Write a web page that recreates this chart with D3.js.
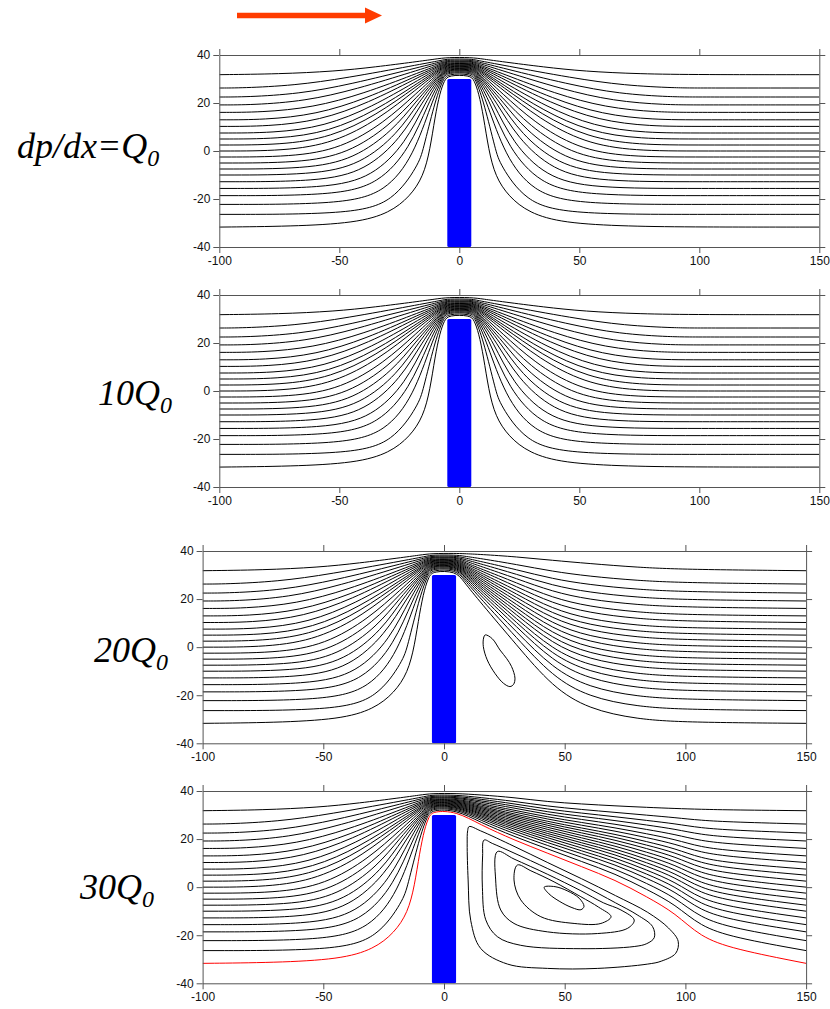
<!DOCTYPE html>
<html>
<head>
<meta charset="utf-8">
<script src="https://cdn.jsdelivr.net/npm/d3@7"></script>
<style>
body { margin: 0; background: #fff; }
.axis path, .axis line { stroke: #555; }
.axis text { font-family: "Liberation Sans", Arial, sans-serif; font-size: 12px; fill: #111; }
.label { font-family: "Liberation Serif", "Times New Roman", serif; font-style: italic; font-size: 36px; fill: #000; }
</style>
</head>
<body>
<div id="chart"></div>
<script>
var xTicks = [-100, -50, 0, 50, 100, 150],
    yTicks = [-40, -20, 0, 20, 40];

// upstream halves of the 21 streamlines (same in every panel), bottom line first
var upLeft = [
  [[-100,-31.7],[-70,-31.4],[-43,-30],[-29,-25.8],[-20.5,-18.9],[-15,-10.6],[-12.2,0.5],[-10.1,14.4],[-8.1,24.2],[-6.2,29.5],[-4.5,31.6]],
  [[-100,-26.4],[-45.5,-26.4],[-27.4,-21.2],[-16.9,-5.4],[-15.2,0],[-10.3,20],[-7,29.5],[-5,32.2]],
  [[-100,-22.25],[-49.2,-22.25],[-30.6,-17.15],[-18.95,-1.85],[-11.6,20],[-7,30.5],[-5,32.7]],
  [[-100,-18.6],[-52.3,-18.6],[-33.4,-13.7],[-20.6,1.2],[-12.9,20],[-7,31.2],[-5,33.1]],
  [[-100,-15.6],[-55.2,-15.6],[-36,-10.8],[-22.2,3.5],[-14.3,20],[-7,31.8],[-5,33.5]],
  [[-100,-12.8],[-58.5,-12.8],[-38.9,-8.2],[-24.2,5.5],[-15.7,20],[-7,32.3],[-5,33.8]],
  [[-100,-10],[-60.9,-10],[-41,-5.65],[-25.5,7.4],[-17.2,20],[-7,32.8],[-5,34.1]],
  [[-100,-7.5],[-63.8,-7.5],[-43.7,-3.4],[-27.3,9],[-18.6,20],[-7,33.2],[-5,34.4]],
  [[-100,-5],[-66.7,-5],[-46.3,-1.1],[-29.1,10.6],[-18,22.2],[-7,33.6],[-5,34.7]],
  [[-100,-2.5],[-69.6,-2.5],[-49,1.1],[-31.1,12],[-18,23.9],[-7,34],[-5,35]],
  [[-100,0],[-72.8,0],[-52,3.4],[-33.4,13.4],[-18,25.6],[-7,34.35],[-5,35.3]],
  [[-100,2.5],[-74.3,2.5],[-53.3,5.7],[-34.3,15.1],[-18,26.8],[-7,34.7],[-5,35.6]],
  [[-100,5],[-75.3,5],[-54.2,8],[-34.8,16.9],[-18,27.8],[-7,35.05],[-5,35.9]],
  [[-100,7.5],[-77.4,7.5],[-56.1,10.2],[-36.3,18.4],[-18,29],[-7,35.4],[-5,36.2]],
  [[-100,10.25],[-79.5,10.25],[-58.1,12.7],[-37.8,20.1],[-18,30.2],[-7,35.75],[-5,36.5]],
  [[-100,13],[-81.1,13],[-59.6,15.2],[-38.9,21.8],[-18,31.2],[-7,36.1],[-5,36.8]],
  [[-100,16.1],[-82.5,16.1],[-60.9,18.1],[-39.9,23.9],[-18,32.2],[-7,36.5],[-5,37.2]],
  [[-100,19.2],[-86,19.2],[-64.2,20.8],[-43,25.7],[-18,33.45],[-7,36.9],[-5,37.5]],
  [[-100,22.5],[-88.6,22.5],[-66.8,23.8],[-45.3,27.8],[-18,34.6],[-7,37.35],[-5,37.9]],
  [[-100,26.25],[-90.7,26.25],[-68.8,27.3],[-47.1,30.4],[-18,35.8],[-7,37.85],[-5,38.35]],
  [[-100,31.8],[-75,32.1],[-52,33.2],[-35,35],[-18,37.2],[-10,38.3],[-5,39]]
];

// downstream halves for dp/dx=Q0 and 10Q0 (symmetric flow)
var stokesRight = [
  [[4.5,31.6],[6.2,29.5],[8.1,24.2],[10.1,14.4],[12.2,0.5],[15,-10.6],[20.5,-18.9],[29,-25.8],[43,-30],[70,-31.4],[100,-31.7],[150,-31.7]],
  [[5,32.2],[7,29.5],[10.3,20],[15.2,0],[16.9,-5.4],[27.4,-21.2],[45.5,-26.4],[100,-26.4],[150,-26.4]],
  [[5,32.7],[7,30.5],[11.6,20],[18.95,-1.85],[30.6,-17.15],[49.2,-22.25],[100,-22.25],[150,-22.25]],
  [[5,33.1],[7,31.2],[12.9,20],[20.6,1.2],[33.4,-13.7],[52.3,-18.6],[100,-18.6],[150,-18.6]],
  [[5,33.5],[7,31.8],[14.3,20],[22.2,3.5],[36,-10.8],[55.2,-15.6],[100,-15.6],[150,-15.6]],
  [[5,33.8],[7,32.3],[15.7,20],[24.2,5.5],[38.9,-8.2],[58.5,-12.8],[100,-12.8],[150,-12.8]],
  [[5,34.1],[7,32.8],[17.2,20],[25.5,7.4],[41,-5.65],[60.9,-10],[100,-10],[150,-10]],
  [[5,34.4],[7,33.2],[18.6,20],[27.3,9],[43.7,-3.4],[63.8,-7.5],[100,-7.5],[150,-7.5]],
  [[5,34.7],[7,33.6],[18,22.2],[29.1,10.6],[46.3,-1.1],[66.7,-5],[100,-5],[150,-5]],
  [[5,35],[7,34],[18,23.9],[31.1,12],[49,1.1],[69.6,-2.5],[100,-2.5],[150,-2.5]],
  [[5,35.3],[7,34.35],[18,25.6],[33.4,13.4],[52,3.4],[72.8,0],[100,0],[150,0]],
  [[5,35.6],[7,34.7],[18,26.8],[34.3,15.1],[53.3,5.7],[74.3,2.5],[100,2.5],[150,2.5]],
  [[5,35.9],[7,35.05],[18,27.8],[34.8,16.9],[54.2,8],[75.3,5],[100,5],[150,5]],
  [[5,36.2],[7,35.4],[18,29],[36.3,18.4],[56.1,10.2],[77.4,7.5],[100,7.5],[150,7.5]],
  [[5,36.5],[7,35.75],[18,30.2],[37.8,20.1],[58.1,12.7],[79.5,10.25],[100,10.25],[150,10.25]],
  [[5,36.8],[7,36.1],[18,31.2],[38.9,21.8],[59.6,15.2],[81.1,13],[100,13],[150,13]],
  [[5,37.2],[7,36.5],[18,32.2],[39.9,23.9],[60.9,18.1],[82.5,16.1],[100,16.1],[150,16.1]],
  [[5,37.5],[7,36.9],[18,33.45],[43,25.7],[64.2,20.8],[86,19.2],[100,19.2],[150,19.2]],
  [[5,37.9],[7,37.35],[18,34.6],[45.3,27.8],[66.8,23.8],[88.6,22.5],[100,22.5],[150,22.5]],
  [[5,38.35],[7,37.85],[18,35.8],[47.1,30.4],[68.8,27.3],[90.7,26.25],[100,26.25],[150,26.25]],
  [[5,39],[10,38.3],[18,37.2],[35,35],[52,33.2],[75,32.1],[100,31.8],[150,31.8]]
];

// downstream halves for 20Q0, read at these x stations
var p3x = [5, 8, 15, 30, 45, 60, 80, 100, 150];
var p3y = [
  [31.6,27.5,18.75,1.0,-16.7,-25.8,-30.0,-31.3,-31.7],
  [32.2,28.45,20.4,4.0,-12.3,-20.8,-24.75,-26.0,-26.4],
  [32.7,29.2,21.7,6.45,-8.8,-16.8,-20.6,-21.8,-22.25],
  [33.1,29.85,22.8,8.55,-5.8,-13.3,-17.0,-18.2,-18.6],
  [33.5,30.4,23.8,10.3,-3.3,-10.4,-13.95,-15.15,-15.6],
  [33.8,30.9,24.7,11.9,-1.0,-7.75,-11.2,-12.35,-12.8],
  [34.1,31.4,25.5,13.5,1.35,-5.1,-8.4,-9.55,-10],
  [34.4,31.85,26.3,14.95,3.4,-2.7,-5.9,-7.05,-7.5],
  [34.7,32.3,27.1,16.4,5.5,-0.35,-3.45,-4.6,-5],
  [35.0,32.75,27.9,17.8,7.6,2.1,-0.9,-2.05,-2.5],
  [35.3,33.2,28.65,19.3,9.65,4.4,1.55,0.45,0],
  [35.6,33.65,29.45,20.7,11.75,6.9,4.05,3.0,2.5],
  [35.9,34.1,30.2,22.15,13.8,9.2,6.55,5.5,5],
  [36.2,34.55,31.0,23.6,15.9,11.6,9.0,7.95,7.5],
  [36.5,35.05,31.9,25.2,18.2,14.3,11.8,10.75,10.25],
  [36.8,35.55,32.7,26.8,20.5,16.9,14.5,13.45,13],
  [37.2,36.1,33.7,28.55,23.05,19.8,17.6,16.6,16.1],
  [37.5,36.65,34.7,30.35,25.65,22.8,20.7,19.7,19.2],
  [37.9,37.25,35.7,32.25,28.4,26.0,24.0,23.0,22.5],
  [38.35,37.9,36.9,34.4,31.5,29.5,27.7,26.75,26.25],
  [39.0,38.9,38.6,37.6,36.1,34.8,33.2,32.3,31.8]
];
var eddy3 = [[17.1,5.1],[20,3.5],[23.2,-1.2],[26,-4.8],[28,-8.1],[29.4,-12.9],[28.8,-15.5],[27.3,-16.4],[24.6,-15],[21.1,-10.9],[17.9,-5.3],[16.3,0.2],[16.4,3.8]];

// downstream halves for 30Q0 (first line is the red dividing streamline)
var p4x = [5, 15, 29, 43, 57, 71, 84, 96, 106, 120, 150];
var p4y = [
  [31.6,26.0,19.6,14.1,8.5,3.0,-4.0,-10.9,-20.6,-25.8,-31.7],
  [32.2,27.0,21.05,15.9,10.65,5.55,-0.9,-7.3,-16.2,-21.0,-26.4],
  [32.7,27.85,22.25,17.3,12.4,7.6,1.55,-4.4,-12.7,-17.2,-22.25],
  [33.1,28.55,23.25,18.5,13.9,9.35,3.65,-1.9,-9.7,-13.9,-18.6],
  [33.5,29.15,24.1,19.55,15.1,10.8,5.45,0.2,-7.15,-11.1,-15.6],
  [33.8,29.7,24.9,20.5,16.3,12.2,7.1,2.1,-4.8,-8.55,-12.8],
  [34.1,30.25,25.65,21.4,17.45,13.55,8.7,4.0,-2.5,-6.0,-10],
  [34.4,30.7,26.35,22.25,18.45,14.75,10.15,5.7,-0.4,-3.75,-7.5],
  [34.7,31.2,27.05,23.1,19.45,15.95,11.6,7.4,1.65,-1.5,-5],
  [35.0,31.7,27.75,23.95,20.5,17.15,13.1,9.15,3.8,0.85,-2.5],
  [35.3,32.2,28.45,24.8,21.5,18.35,14.55,10.85,5.85,3.1,0],
  [35.6,32.7,29.15,25.65,22.55,19.6,16.05,12.6,7.95,5.4,2.5],
  [35.9,33.15,29.85,26.45,23.6,20.8,17.5,14.3,10.05,7.65,5],
  [36.2,33.65,30.5,27.3,24.6,22.0,18.95,16.0,12.1,9.9,7.5],
  [36.5,34.2,31.3,28.25,25.75,23.35,20.6,17.9,14.45,12.5,10.25],
  [36.8,34.75,32.05,29.15,26.9,24.7,22.2,19.8,16.7,15.0,13],
  [37.2,35.35,32.95,30.2,28.15,26.2,24.0,21.9,19.3,17.8,16.1],
  [37.5,35.95,33.8,31.25,29.45,27.7,25.85,24.1,21.9,20.6,19.2],
  [37.9,36.6,34.7,32.4,30.8,29.3,27.75,26.35,24.65,23.65,22.5],
  [38.35,37.3,35.75,33.65,32.3,31.1,29.95,28.9,27.8,27.05,26.25],
  [39.0,38.4,37.3,35.5,34.6,33.8,33.2,32.7,32.4,32.1,31.8]
];
var eddies4 = [
  [[10.4,25.2],[15.2,23.4],[29,17.0],[43,10.2],[57,3.5],[71,-3.5],[84.4,-10.5],[93,-17],[97,-22.5],[96,-27.5],[90,-30.8],[84.4,-32],[63.7,-33.8],[42.9,-33.8],[26.3,-32],[15.2,-25.5],[11.1,-14],[10,3],[9.6,18],[9.8,23.5]],
  [[16.6,19.6],[20,18.2],[29,14.2],[43,7.7],[57,1.0],[71,-6.5],[80,-11.5],[86.4,-16.4],[87.1,-21],[84,-23.5],[78.8,-24.7],[56.7,-25.6],[31.8,-24.2],[22.1,-20.6],[17.3,-13.6],[15.9,0],[16,13]],
  [[22.1,14.8],[29,11.7],[43,5.3],[56.7,-1.5],[66,-6.5],[73.3,-9.5],[78.8,-13.7],[76.1,-17.1],[63.6,-19.3],[42.9,-18.6],[29,-15.1],[23.5,-9.5],[21.4,3]],
  [[30.4,9.2],[36,6.8],[45.6,2.2],[56.7,-4.0],[64,-8.3],[69.2,-12.3],[65,-15.1],[53.9,-15.1],[40.1,-12.3],[31.8,-5.3],[29,3]],
  [[41.5,0],[43.5,-2.8],[48,-6],[53,-8.5],[56.7,-9.4],[58,-8],[56,-4.6],[51,-1.5],[46,0.2]]
];

var plate = {x0: -5, x1: 5, top: 30, bottom: -40};

var panels = [
  {left: 219.3, top: 55,  width: 600,   height: 192,   name: "dp/dx=Q", lx: 17, ly: 158, kind: "stokes"},
  {left: 219.3, top: 295, width: 600,   height: 192,   name: "10Q",     lx: 98, ly: 405, kind: "stokes"},
  {left: 202.6, top: 551, width: 603.5, height: 192.3, name: "20Q",     lx: 94, ly: 662, kind: "p3"},
  {left: 202.6, top: 791, width: 603.5, height: 192.3, name: "30Q",     lx: 80, ly: 899, kind: "p4"}
];

var svg = d3.select("#chart")
    .append("svg")
    .attr("width", 830)
    .attr("height", 1009);

// flow direction arrow
svg.append("line")
    .attr("x1", 237).attr("y1", 15.5)
    .attr("x2", 367).attr("y2", 15.5)
    .attr("stroke", "#ff3c00")
    .attr("stroke-width", 5.5);
svg.append("path")
    .attr("d", "M365,7.5L382,15.5L365,23.5Z")
    .attr("fill", "#ff3c00");

panels.forEach(function (p, pi) {
    var x = d3.scaleLinear().domain([-100, 150]).range([0, p.width]),
        y = d3.scaleLinear().domain([-40, 40]).range([p.height, 0]);

    var line = d3.line()
        .x(function (d) { return x(d[0]); })
        .y(function (d) { return y(d[1]); })
        .curve(d3.curveBasis);

    var loop = d3.line()
        .x(function (d) { return x(d[0]); })
        .y(function (d) { return y(d[1]); })
        .curve(d3.curveCatmullRomClosed.alpha(0.5));

    var g = svg.append("g")
        .attr("transform", "translate(" + p.left + "," + p.top + ")");

    g.append("clipPath").attr("id", "clip" + pi)
        .append("rect").attr("width", p.width).attr("height", p.height);

    var plot = g.append("g").attr("clip-path", "url(#clip" + pi + ")");

    var streams = upLeft.map(function (left, i) {
        var right;
        if (p.kind === "stokes") right = stokesRight[i];
        else if (p.kind === "p3") right = p3y[i].map(function (v, k) { return [p3x[k], v]; });
        else right = p4y[i].map(function (v, k) { return [p4x[k], v]; });
        return left.concat(right);
    });

    plot.selectAll(".stream")
        .data(streams)
        .enter().append("path")
        .attr("class", "stream")
        .attr("d", line)
        .attr("fill", "none")
        .attr("stroke", function (d, i) { return (p.kind === "p4" && i === 0) ? "#ff0000" : "#000"; })
        .attr("stroke-width", 1);

    var loops = p.kind === "p3" ? [eddy3] : (p.kind === "p4" ? eddies4 : []);
    plot.selectAll(".eddy")
        .data(loops)
        .enter().append("path")
        .attr("class", "eddy")
        .attr("d", loop)
        .attr("fill", "none")
        .attr("stroke", "#000")
        .attr("stroke-width", 1);

    plot.append("rect")
        .attr("x", x(plate.x0))
        .attr("y", y(plate.top))
        .attr("width", x(plate.x1) - x(plate.x0))
        .attr("height", y(plate.bottom) - y(plate.top))
        .attr("rx", 1.5)
        .attr("fill", "#0000ff");

    var fmt = function (d) { return String(d); };

    g.append("g").attr("class", "axis")
        .attr("transform", "translate(0," + p.height + ")")
        .call(d3.axisBottom(x).tickValues(xTicks).tickFormat(fmt).tickSizeOuter(0));
    g.append("g").attr("class", "axis")
        .call(d3.axisTop(x).tickValues(xTicks).tickFormat("").tickSizeOuter(0));
    g.append("g").attr("class", "axis")
        .call(d3.axisLeft(y).tickValues(yTicks).tickFormat(fmt).tickSizeOuter(0));
    g.append("g").attr("class", "axis")
        .attr("transform", "translate(" + p.width + ",0)")
        .call(d3.axisRight(y).tickValues(yTicks).tickFormat("").tickSizeOuter(0));

    g.selectAll(".axis text").attr("font-family", null);

    var t = svg.append("text")
        .attr("class", "label")
        .attr("x", p.lx)
        .attr("y", p.ly);
    t.append("tspan").text(p.name);
    t.append("tspan").attr("font-size", 24).attr("dy", 8).text("0");
});
</script>
</body>
</html>
